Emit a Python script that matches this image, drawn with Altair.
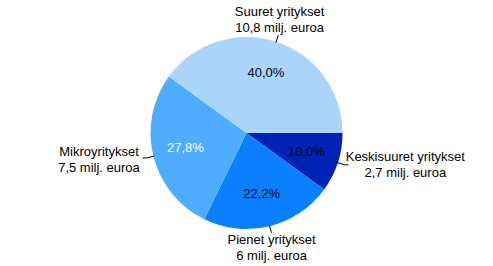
import math
import altair as alt
import pandas as pd

# ---- data ----
categories = ["Keskisuuret yritykset", "Pienet yritykset", "Mikroyritykset", "Suuret yritykset"]
values = [2.7, 6.0, 7.5, 10.8]  # milj. euroa
unit_text = "milj. euroa"

# ---- style ----
colors = ["#0023B5", "#0A80FF", "#4FADFF", "#AAD4FA"]
pct_colors = ["black", "black", "white", "black"]
label_angle_offset = [-6.6, 1.7, 3.5, -1.7]  # degrees from slice bisector
label_radius = [162, 118, 150, 118]          # px from centre
FONT = "Liberation Sans"
FS = 13
LH = 16
W, H = 493, 266
CX, CY = W / 2, H / 2
R = 96

def fi(v):
    return f"{v:g}".replace(".", ",")

df = pd.DataFrame({
    "cat": categories,
    "value": values,
    "idx": list(range(len(categories))),
    "label": [f"{c}\n{fi(v)} {unit_text}" for c, v in zip(categories, values)],
    "pcol": pct_colors,
    "loff": label_angle_offset,
    "lrad": label_radius,
})

base = alt.Chart(df)
theta_scale = alt.Scale(range=[math.pi / 2, math.pi / 2 + 2 * math.pi])

arcs = base.mark_arc(radius=R, stroke=None).encode(
    theta=alt.Theta("value:Q", stack=True, scale=theta_scale),
    color=alt.Color("cat:N", scale=alt.Scale(domain=categories, range=colors), legend=None),
    order=alt.Order("idx:Q"),
)

pct = base.transform_joinaggregate(total="sum(value)").transform_calculate(
    ptxt="replace(format(datum.value / datum.total * 100, '.1f'), '.', ',') + '%'"
).mark_text(radius=63, font=FONT, fontSize=FS, align="center", baseline="middle").encode(
    theta=alt.Theta("value:Q", stack=True, scale=theta_scale),
    order=alt.Order("idx:Q"),
    text="ptxt:N",
    color=alt.Color("pcol:N", scale=None),
)

geo = base.transform_joinaggregate(total="sum(value)").transform_window(
    cum="sum(value)", sort=[alt.SortField("idx")], frame=[None, 0]
).transform_calculate(
    mid="PI/2 + 2*PI*(datum.cum - datum.value/2)/datum.total"
).transform_calculate(
    ex=f"{CX} + {R + 7}*sin(datum.mid)",
    ey=f"{CY} - {R + 7}*cos(datum.mid)",
)

leaders = geo.transform_calculate(
    x1=f"{CX} + {R - 1}*sin(datum.mid)",
    y1=f"{CY} - {R - 1}*cos(datum.mid)",
).mark_rule(color="black", strokeWidth=1).encode(
    x=alt.X("x1:Q", scale=None, axis=None),
    y=alt.Y("y1:Q", scale=None, axis=None),
    x2="ex:Q",
    y2="ey:Q",
)

hooks = geo.transform_filter("abs(sin(datum.mid)) > 0.8").transform_calculate(
    hx="datum.ex + (sin(datum.mid) > 0 ? 4 : -4)",
).mark_rule(color="black", strokeWidth=1).encode(
    x=alt.X("ex:Q", scale=None, axis=None),
    y=alt.Y("ey:Q", scale=None, axis=None),
    x2="hx:Q",
)

labels = geo.transform_calculate(
    la="datum.mid + datum.loff*PI/180",
).transform_calculate(
    px=f"{CX} + datum.lrad*sin(datum.la)",
    py=f"{CY} - datum.lrad*cos(datum.la) - {LH / 2}",
).mark_text(font=FONT, fontSize=FS, align="center", baseline="middle",
            lineBreak="\n", lineHeight=LH, color="black").encode(
    x=alt.X("px:Q", scale=None, axis=None),
    y=alt.Y("py:Q", scale=None, axis=None),
    text="label:N",
)

chart = alt.layer(arcs, pct, leaders, hooks, labels).properties(
    width=W, height=H, autosize=alt.AutoSizeParams(type="none"), padding=0,
    background="white",
).configure_view(stroke=None)

chart.save("out.html", embed_options={"renderer": "svg", "actions": False})
